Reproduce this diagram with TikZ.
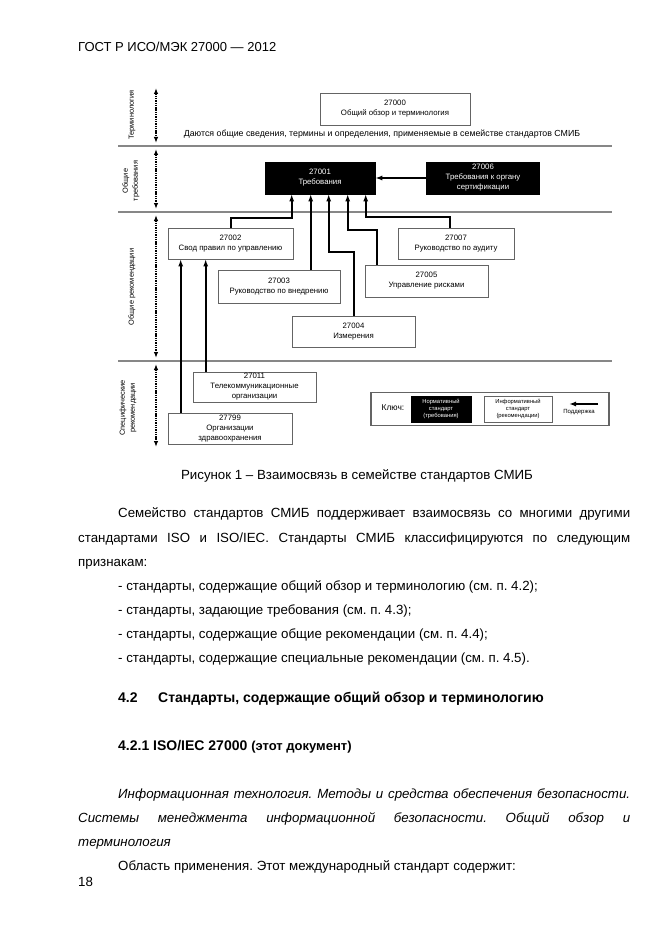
\documentclass[tikz,border=0pt]{standalone}
\usepackage{fontspec}
\setmainfont{Liberation Sans}
\usetikzlibrary{arrows.meta,positioning,calc}
\definecolor{rulegray}{RGB}{135,135,135}
\definecolor{boxgray}{RGB}{100,100,100}

\tikzset{
  stdbox/.style={draw=boxgray, line width=0.6pt, fill=white, align=center, inner sep=1pt,
    font=\fontsize{7.8}{10}\selectfont},
  normbox/.style={stdbox, draw=black, fill=black, text=white},
  keybox/.style={stdbox, font=\fontsize{5.8}{7}\selectfont, minimum height=26pt},
  sup/.style={line width=2pt, -{Latex[length=7pt,width=5pt]}},
  span/.style={line width=1.9pt, dash pattern=on 1.4pt off 0.9pt,
    {Latex[length=6pt,width=4.5pt]}-{Latex[length=6pt,width=4.5pt]}},
  sepline/.style={rulegray, line width=1.6pt},
  sidelabel/.style={rotate=90, align=center, inner sep=0pt, font=\fontsize{7.4}{10}\selectfont},
  body/.style={anchor=base west, inner sep=0pt, font=\fontsize{13.3}{15}\selectfont},
}

\begin{document}
\frenchspacing
\begin{tikzpicture}[x=1pt,y=-1pt]
\useasboundingbox[fill=white] (0,0) rectangle (661,936);

% running head
\node[body, font=\fontsize{13}{15}\selectfont] (head) at (78,52) {ГОСТ Р ИСО/МЭК 27000 — 2012};

% sections of the figure
\draw[sepline] (118,146) -- (612,146);
\draw[sepline] (118,212) -- (612,212);
\draw[sepline] (118,361) -- (612,361);

\draw[span] (156,88) -- (156,143);
\draw[span] (156,149) -- (156,209);
\draw[span] (156,215) -- (156,358);
\draw[span] (156,364) -- (156,447);

\node[sidelabel] (lterm) at (132,115) {Терминология};
\node[sidelabel] (lreq) at (131,181) {Общие\\требования};
\node[sidelabel] (lgen) at (132,287) {Общие рекомендации};
\node[sidelabel] (lspec) at (128,408) {Специфические\\рекомендации};

% standards
\node[stdbox, minimum width=150pt, minimum height=32pt] (n27000) at (395,109) {27000\\Общий обзор и терминология};
\node[font=\fontsize{8.8}{10}\selectfont, inner sep=0pt] (intro) at (382,134)
  {Даются общие сведения, термины и определения, применяемые в семействе стандартов СМИБ};

\node[normbox, minimum width=110pt, minimum height=32pt] (n27001) at (320,178) {27001\\Требования};
\node[normbox, minimum width=113pt, minimum height=32pt] (n27006) at (483,178) {27006\\Требования к органу\\сертификации};

\node[stdbox, minimum width=125pt, minimum height=31pt] (n27002) at (230.5,243.5) {27002\\Свод правил по управлению};
\node[stdbox, minimum width=116pt, minimum height=31pt] (n27007) at (456,243.5) {27007\\Руководство по аудиту};
\node[stdbox, minimum width=122pt, minimum height=33pt] (n27003) at (279,286.5) {27003\\Руководство по внедрению};
\node[stdbox, minimum width=123pt, minimum height=32pt] (n27005) at (426.5,281) {27005\\Управление рисками};
\node[stdbox, minimum width=123pt, minimum height=31pt] (n27004) at (353.5,331.5) {27004\\Измерения};

\node[stdbox, minimum width=123pt, minimum height=30pt] (n27011) at (254.5,387) {27011\\Телекоммуникационные\\организации};
\node[stdbox, minimum width=124pt, minimum height=31pt] (n27799) at (230,428.5) {27799\\Организации\\здравоохранения};

% support links
\foreach \k/\dx in {1/27,2/46,3/64,4/83,5/101}
  \coordinate (t\k) at ($(n27001.south west)+(\dx,0)$);

\draw[sup] (n27006.west) -- (n27001.east);
\draw[sup] (n27002.north) |- ($(t1)+(0,24)$) -- (t1);
\draw[sup] (n27003.north -| t2) -- (t2);
\draw[sup] (n27004.north) |- ($(t3)+(0,58)$) -- (t3);
\draw[sup] ($(n27005.north west)+(12,0)$) |- ($(t4)+(0,36)$) -- (t4);
\draw[sup] ($(n27007.north)+(-6,0)$) |- ($(t5)+(0,23)$) -- (t5);
\draw[sup] ($(n27799.north west)+(13,0)$) -- ($(n27002.south west)+(13,0)$);
\draw[sup] ($(n27011.north west)+(13,0)$) -- ($(n27002.south west)+(38,0)$);

% key
\node[draw=boxgray, line width=1.2pt, minimum width=238pt, minimum height=33pt] (key) at (490,409) {};
\node[font=\fontsize{8.4}{9}\selectfont, inner sep=0pt] (keyword) at (393,408) {Ключ:};
\node[keybox, normbox, font=\fontsize{5.8}{7}\selectfont, minimum width=60pt] (knorm) at (441,409) {Нормативный\\стандарт\\(требования)};
\node[keybox, minimum width=68pt] (kinfo) at (518,409) {Информативный\\стандарт\\(рекомендации)};
\coordinate (ks) at (598,404);
\coordinate (ke) at (569,404);
\draw[sup, line width=1.5pt] (ks) -- (ke);
\node[font=\fontsize{6}{7}\selectfont, inner sep=0pt] (ksup) at (579,412) {Поддержка};

% caption and text
\node[anchor=base, inner sep=0pt, font=\fontsize{13.3}{15}\selectfont] (cap) at (357,479)
  {Рисунок 1 – Взаимосвязь в семействе стандартов СМИБ};

\node[body] (p1) at (118,517) {\makebox[512pt][s]{Семейство стандартов СМИБ поддерживает взаимосвязь со многими другими}};
\node[body] (p2) at (78,542) {\makebox[552pt][s]{стандартами ISO и ISO/IEC. Стандарты СМИБ классифицируются по следующим}};
\node[body] (p3) at (78,566) {признакам:};
\node[body] (l1) at (118,590) {- стандарты, содержащие общий обзор и терминологию (см. п. 4.2);};
\node[body] (l2) at (118,614) {- стандарты, задающие требования (см. п. 4.3);};
\node[body] (l3) at (118,638) {- стандарты, содержащие общие рекомендации (см. п. 4.4);};
\node[body] (l4) at (118,662) {- стандарты, содержащие специальные рекомендации (см. п. 4.5).};

\node[body, font=\fontsize{14}{15}\bfseries] (h1n) at (118,702) {4.2};
\node[body, font=\fontsize{14}{15}\bfseries] (h1) at (158,702) {Стандарты, содержащие общий обзор и терминологию};
\node[body, font=\fontsize{14}{15}\bfseries] (h2) at (118,750) {4.2.1 ISO/IEC 27000 {\fontsize{13}{14}\selectfont(этот документ)}};

\node[body, font=\fontsize{13.3}{15}\itshape] (t1l) at (118,798) {\makebox[512pt][s]{Информационная технология. Методы и средства обеспечения безопасности.}};
\node[body, font=\fontsize{13.3}{15}\itshape] (t2l) at (78,822) {\makebox[552pt][s]{Системы менеджмента информационной безопасности. Общий обзор и}};
\node[body, font=\fontsize{13.3}{15}\itshape] (t3l) at (78,846) {терминология};
\node[body] (scope) at (118,870) {Область применения. Этот международный стандарт содержит:};

\node[body] (pg) at (78,886) {18};
\end{tikzpicture}
\end{document}
